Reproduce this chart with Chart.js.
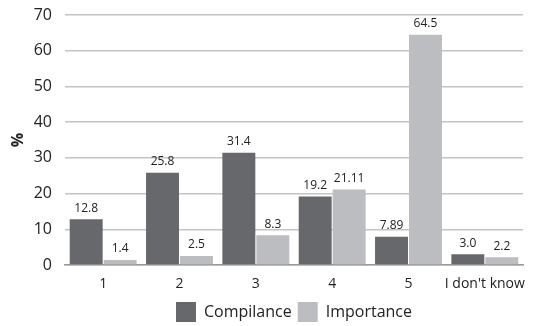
<!DOCTYPE html>
<html>
<head>
<meta charset="utf-8">
<script src="https://cdn.jsdelivr.net/npm/chart.js@4/dist/chart.umd.min.js"></script>
<style>
  html, body { margin: 0; padding: 0; background: #fff; }
  #wrap { width: 547px; height: 326px; }
</style>
</head>
<body>
<div id="wrap"><canvas id="c" width="547" height="326"></canvas></div>
<script>
const categories = ['1', '2', '3', '4', '5', "I don't know"];
const compilanceText = ['12.8', '25.8', '31.4', '19.2', '7.89', '3.0'];
const importanceText = ['1.4', '2.5', '8.3', '21.11', '64.5', '2.2'];
const compilance = compilanceText.map(Number);
const importance = importanceText.map(Number);
const yTicks = [0, 10, 20, 30, 40, 50, 60, 70];

const FONT = "'Open Sans', 'Liberation Sans', sans-serif";

// writes each bar's value just above it
const valueLabels = {
  id: 'valueLabels',
  afterDatasetsDraw(chart) {
    const ctx = chart.ctx;
    const texts = [compilanceText, importanceText];
    ctx.save();
    ctx.fillStyle = '#222';
    ctx.font = "12px 'Liberation Sans Narrow', 'Open Sans', sans-serif";
    ctx.textAlign = 'center';
    ctx.textBaseline = 'bottom';
    chart.data.datasets.forEach((ds, di) => {
      chart.getDatasetMeta(di).data.forEach((bar, i) => {
        ctx.fillText(texts[di][i], bar.x, bar.y - 5);
      });
    });
    ctx.restore();
  }
};

new Chart(document.getElementById('c'), {
  type: 'bar',
  data: {
    labels: categories,
    datasets: [
      { label: 'Compilance', data: compilance, backgroundColor: '#67686b' },
      { label: 'Importance', data: importance, backgroundColor: '#bcbdc0' }
    ]
  },
  options: {
    responsive: false,
    animation: false,
    layout: { padding: { left: 0, right: 24, top: 15, bottom: -6 } },
    datasets: { bar: { categoryPercentage: 0.89, barPercentage: 0.97 } },
    plugins: {
      legend: {
        position: 'bottom',
        fullSize: false,
        labels: {
          color: '#222',
          font: { family: FONT, size: 16 },
          boxWidth: 20, boxHeight: 20, padding: 6
        }
      },
      tooltip: { enabled: false }
    },
    scales: {
      x: {
        grid: { display: false, drawTicks: false },
        border: { color: '#9a9a9a', width: 1.5 },
        ticks: {
          color: '#222', font: { family: FONT, size: 14 }, padding: 11,
          maxRotation: 0, minRotation: 0, autoSkip: false
        },
        afterFit(axis) { axis.height = 31; axis.paddingLeft = 0; axis.paddingRight = 0; }
      },
      y: {
        min: 0, max: 70,
        afterBuildTicks(axis) { axis.ticks = yTicks.map(v => ({ value: v })); },
        grid: { color: '#c4c4c4', lineWidth: 1.5, drawTicks: false },
        border: { display: false },
        ticks: { color: '#222', font: { family: FONT, size: 16 }, padding: 13 },
        title: { display: true, text: '%', color: '#222', font: { family: FONT, size: 16, weight: 'bold' }, padding: { top: 9, bottom: 0 } },
        afterFit(axis) { axis.width = 65; axis.paddingTop = 0; axis.paddingBottom = 0; }
      }
    }
  },
  plugins: [valueLabels]
});
</script>
</body>
</html>
